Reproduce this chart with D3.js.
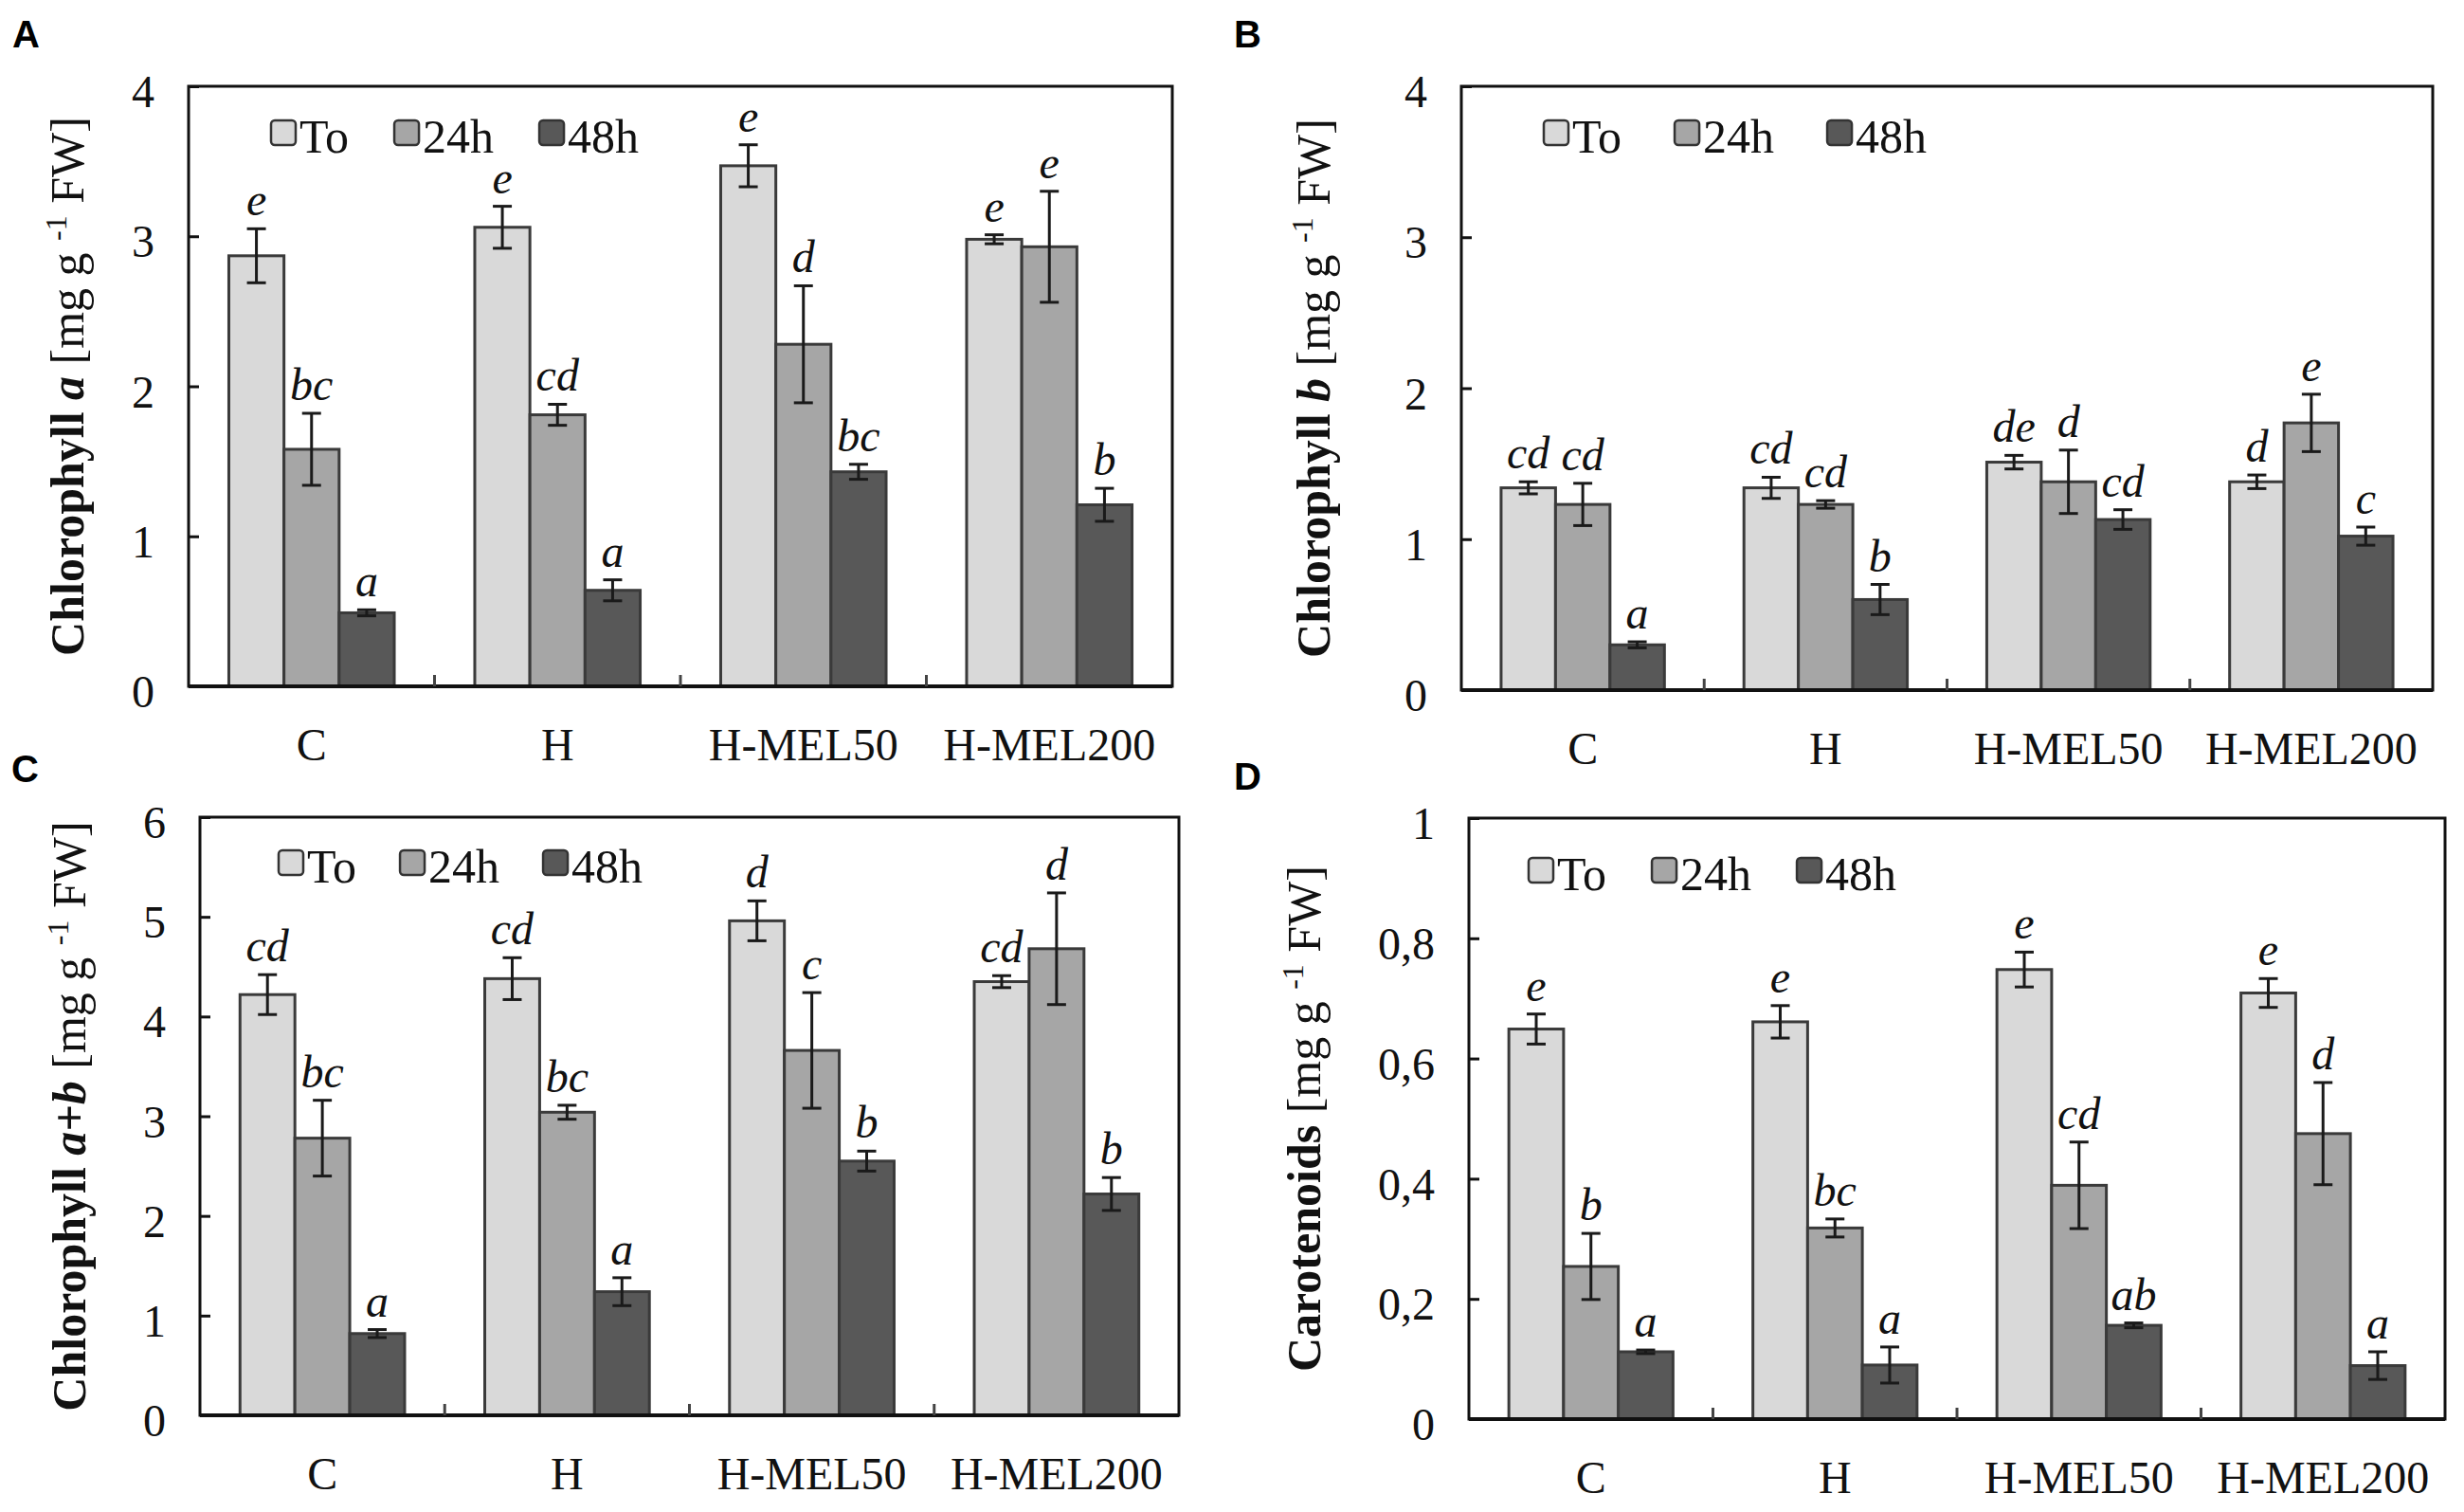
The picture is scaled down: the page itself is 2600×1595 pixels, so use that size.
<!DOCTYPE html>
<html>
<head>
<meta charset="utf-8">
<script src="https://cdn.jsdelivr.net/npm/d3@7"></script>
<style>
  html, body { margin: 0; padding: 0; background: #fff; }
  svg { display: block; }
</style>
</head>
<body>
<svg id="chart" width="2600" height="1595"></svg>
<script>
// ---------------- DATA ----------------
const categories = ["C", "H", "H-MEL50", "H-MEL200"];
const seriesNames = ["To", "24h", "48h"];

// Panel A – Chlorophyll a
const chlA_To   = [2.87, 3.06, 3.47, 2.98];
const chlA_24h  = [1.58, 1.81, 2.28, 2.93];
const chlA_48h  = [0.49, 0.64, 1.43, 1.21];
const chlA_errTo  = [0.18, 0.14, 0.14, 0.03];
const chlA_err24h = [0.24, 0.07, 0.39, 0.37];
const chlA_err48h = [0.02, 0.07, 0.05, 0.11];
const chlA_letTo  = ["e", "e", "e", "e"];
const chlA_let24h = ["bc", "cd", "d", "e"];
const chlA_let48h = ["a", "a", "bc", "b"];
const chlA_ticks = [0, 1, 2, 3, 4];
const chlA_tickLabels = ["0", "1", "2", "3", "4"];

// Panel B – Chlorophyll b
const chlB_To   = [1.34, 1.34, 1.51, 1.38];
const chlB_24h  = [1.23, 1.23, 1.38, 1.77];
const chlB_48h  = [0.30, 0.60, 1.13, 1.02];
const chlB_errTo  = [0.04, 0.07, 0.045, 0.045];
const chlB_err24h = [0.14, 0.025, 0.21, 0.19];
const chlB_err48h = [0.02, 0.10, 0.065, 0.06];
const chlB_letTo  = ["cd", "cd", "de", "d"];
const chlB_let24h = ["cd", "cd", "d", "e"];
const chlB_let48h = ["a", "b", "cd", "c"];
const chlB_ticks = [0, 1, 2, 3, 4];
const chlB_tickLabels = ["0", "1", "2", "3", "4"];

// Panel C – Chlorophyll a+b
const chlAB_To   = [4.22, 4.38, 4.96, 4.35];
const chlAB_24h  = [2.78, 3.04, 3.66, 4.68];
const chlAB_48h  = [0.82, 1.24, 2.55, 2.22];
const chlAB_errTo  = [0.20, 0.21, 0.20, 0.06];
const chlAB_err24h = [0.38, 0.07, 0.58, 0.56];
const chlAB_err48h = [0.04, 0.14, 0.10, 0.165];
const chlAB_letTo  = ["cd", "cd", "d", "cd"];
const chlAB_let24h = ["bc", "bc", "c", "d"];
const chlAB_let48h = ["a", "a", "b", "b"];
const chlAB_ticks = [0, 1, 2, 3, 4, 5, 6];
const chlAB_tickLabels = ["0", "1", "2", "3", "4", "5", "6"];

// Panel D – Carotenoids
const car_To   = [0.649, 0.661, 0.748, 0.709];
const car_24h  = [0.254, 0.318, 0.389, 0.475];
const car_48h  = [0.112, 0.090, 0.156, 0.089];
const car_errTo  = [0.025, 0.027, 0.029, 0.024];
const car_err24h = [0.055, 0.015, 0.072, 0.085];
const car_err48h = [0.003, 0.030, 0.004, 0.023];
const car_letTo  = ["e", "e", "e", "e"];
const car_let24h = ["b", "bc", "cd", "d"];
const car_let48h = ["a", "a", "ab", "a"];
const car_ticks = [0, 0.2, 0.4, 0.6, 0.8, 1];
const car_tickLabels = ["0", "0,2", "0,4", "0,6", "0,8", "1"];

// ---------------- STYLE ----------------
const fills = ["#d9d9d9", "#a6a6a6", "#585858"];
const serif = "'Liberation Serif', 'Times New Roman', serif";

const svg = d3.select("#chart");

function drawPanel(cfg) {
  const g = svg.append("g");
  const { left, right, top, bottom } = cfg.frame;

  const x0 = d3.scaleBand().domain(categories).range([left, right]).paddingInner(0).paddingOuter(0);
  const x1 = d3.scaleBand().domain(seriesNames).range([0, x0.bandwidth()]).paddingInner(0).paddingOuter(0.73);
  const y = d3.scaleLinear().domain([0, cfg.ymax]).range([bottom, top]);

  const values = [cfg.to, cfg.h24, cfg.h48];
  const errs = [cfg.eTo, cfg.e24, cfg.e48];
  const lets = [cfg.lTo, cfg.l24, cfg.l48];

  const rows = [];
  categories.forEach((c, i) => {
    seriesNames.forEach((s, j) => {
      rows.push({ cat: c, ser: s, j, v: values[j][i], e: errs[j][i], l: lets[j][i] });
    });
  });

  // frame
  g.append("rect")
    .attr("x", left).attr("y", top)
    .attr("width", right - left).attr("height", bottom - top)
    .attr("fill", "none").attr("stroke", "#111").attr("stroke-width", 3);

  // y axis (inward ticks)
  const yAxis = d3.axisLeft(y)
    .tickValues(cfg.ticks)
    .tickFormat((d, i) => cfg.tickLabels[i])
    .tickSizeInner(-11).tickSizeOuter(0).tickPadding(36);
  const ya = g.append("g").attr("transform", `translate(${left},0)`).call(yAxis)
    .attr("font-family", serif).attr("font-size", 48);
  ya.select(".domain").remove();
  ya.selectAll(".tick line").attr("stroke", "#111").attr("stroke-width", 3);
  ya.selectAll(".tick text")
    .style("font-family", serif).style("font-size", "48px").attr("fill", "#111")
    .attr("dy", "0.45em");

  // bars
  const bars = g.append("g");
  bars.selectAll("rect").data(rows).join("rect")
    .attr("x", d => x0(d.cat) + x1(d.ser))
    .attr("y", d => y(d.v))
    .attr("width", x1.bandwidth())
    .attr("height", d => y(0) - y(d.v))
    .attr("fill", d => fills[d.j])
    .attr("stroke", "#3a3a3a").attr("stroke-width", 3);

  // error bars
  const eb = g.append("g").attr("stroke", "#1a1a1a").attr("stroke-width", 3);
  const cap = 10;
  rows.forEach(d => {
    const cx = x0(d.cat) + x1(d.ser) + x1.bandwidth() / 2;
    const y1 = y(d.v + d.e), y2 = y(d.v - d.e);
    eb.append("line").attr("x1", cx).attr("x2", cx).attr("y1", y1).attr("y2", y2);
    eb.append("line").attr("x1", cx - cap).attr("x2", cx + cap).attr("y1", y1).attr("y2", y1);
    eb.append("line").attr("x1", cx - cap).attr("x2", cx + cap).attr("y1", y2).attr("y2", y2);
  });

  // significance letters
  g.append("g").selectAll("text").data(rows).join("text")
    .attr("x", d => x0(d.cat) + x1(d.ser) + x1.bandwidth() / 2)
    .attr("y", d => y(d.v + d.e) - 14)
    .attr("text-anchor", "middle")
    .attr("font-family", serif).attr("font-style", "italic").attr("font-size", 48)
    .attr("fill", "#111")
    .text(d => d.l);

  // bottom axis
  const xAxis = d3.axisBottom(x0).tickSize(0).tickPadding(44);
  const xa = g.append("g").attr("transform", `translate(0,${bottom})`).call(xAxis)
    .attr("font-family", serif).attr("font-size", 48);
  xa.select(".domain").remove();
  xa.selectAll(".tick text").attr("fill", "#111");
  g.append("line").attr("x1", left).attr("x2", right).attr("y1", bottom).attr("y2", bottom)
    .attr("stroke", "#111").attr("stroke-width", 4);
  // group divider ticks
  g.append("g").selectAll("line").data(categories.slice(1)).join("line")
    .attr("x1", d => x0(d)).attr("x2", d => x0(d))
    .attr("y1", bottom).attr("y2", bottom - 12)
    .attr("stroke", "#444").attr("stroke-width", 3);

  // legend
  const lg = g.append("g").attr("transform", `translate(${left + cfg.legend[0]},${top + cfg.legend[1]})`);
  let cx = 0;
  seriesNames.forEach((s, j) => {
    lg.append("rect").attr("x", cx).attr("y", 0).attr("width", 26).attr("height", 26)
      .attr("rx", 4).attr("fill", fills[j]).attr("stroke", "#333").attr("stroke-width", 2.5);
    const t = lg.append("text").attr("x", cx + 30).attr("y", 34)
      .attr("font-family", serif).attr("font-size", 50).attr("fill", "#111").text(s);
    cx += 30 + t.node().getComputedTextLength() + cfg.legendGap;
  });

  // y title
  const tt = g.append("text")
    .attr("transform", `translate(${cfg.titleX},${(top + bottom) / 2}) rotate(-90)`)
    .attr("text-anchor", "middle")
    .attr("font-family", serif).attr("font-size", 50).attr("fill", "#111");
  tt.append("tspan").attr("font-weight", "bold").text(cfg.titleMain);
  if (cfg.titleItalic) tt.append("tspan").attr("font-weight", "bold").attr("font-style", "italic").text(" " + cfg.titleItalic);
  tt.append("tspan").text(" [mg g ");
  tt.append("tspan").attr("font-size", 32).attr("dy", -18).text("-1");
  tt.append("tspan").attr("dy", 18).text(" FW]");

  // panel letter
  svg.append("text").attr("x", cfg.label[0]).attr("y", cfg.label[1])
    .attr("font-family", "'Liberation Sans', Arial, sans-serif").attr("font-weight", "bold")
    .attr("font-size", 40).attr("fill", "#000").text(cfg.panel);
}

drawPanel({
  panel: "A", label: [13, 50],
  frame: { left: 199, right: 1237, top: 91, bottom: 724 }, ymax: 4,
  to: chlA_To, h24: chlA_24h, h48: chlA_48h,
  eTo: chlA_errTo, e24: chlA_err24h, e48: chlA_err48h,
  lTo: chlA_letTo, l24: chlA_let24h, l48: chlA_let48h,
  ticks: chlA_ticks, tickLabels: chlA_tickLabels,
  legend: [87, 36], legendGap: 48,
  titleX: 88, titleMain: "Chlorophyll", titleItalic: "a"
});
drawPanel({
  panel: "B", label: [1302, 50],
  frame: { left: 1542, right: 2567, top: 91, bottom: 728 }, ymax: 4,
  to: chlB_To, h24: chlB_24h, h48: chlB_48h,
  eTo: chlB_errTo, e24: chlB_err24h, e48: chlB_err48h,
  lTo: chlB_letTo, l24: chlB_let24h, l48: chlB_let48h,
  ticks: chlB_ticks, tickLabels: chlB_tickLabels,
  legend: [87, 36], legendGap: 56,
  titleX: 1403, titleMain: "Chlorophyll", titleItalic: "b"
});
drawPanel({
  panel: "C", label: [12, 825],
  frame: { left: 211, right: 1244, top: 862, bottom: 1493 }, ymax: 6,
  to: chlAB_To, h24: chlAB_24h, h48: chlAB_48h,
  eTo: chlAB_errTo, e24: chlAB_err24h, e48: chlAB_err48h,
  lTo: chlAB_letTo, l24: chlAB_let24h, l48: chlAB_let48h,
  ticks: chlAB_ticks, tickLabels: chlAB_tickLabels,
  legend: [83, 35], legendGap: 46,
  titleX: 90, titleMain: "Chlorophyll", titleItalic: "a+b"
});
drawPanel({
  panel: "D", label: [1302, 833],
  frame: { left: 1550, right: 2580, top: 863, bottom: 1497 }, ymax: 1,
  to: car_To, h24: car_24h, h48: car_48h,
  eTo: car_errTo, e24: car_err24h, e48: car_err48h,
  lTo: car_letTo, l24: car_let24h, l48: car_let48h,
  ticks: car_ticks, tickLabels: car_tickLabels,
  legend: [63, 42], legendGap: 48,
  titleX: 1393, titleMain: "Carotenoids", titleItalic: null
});
</script>
</body>
</html>
